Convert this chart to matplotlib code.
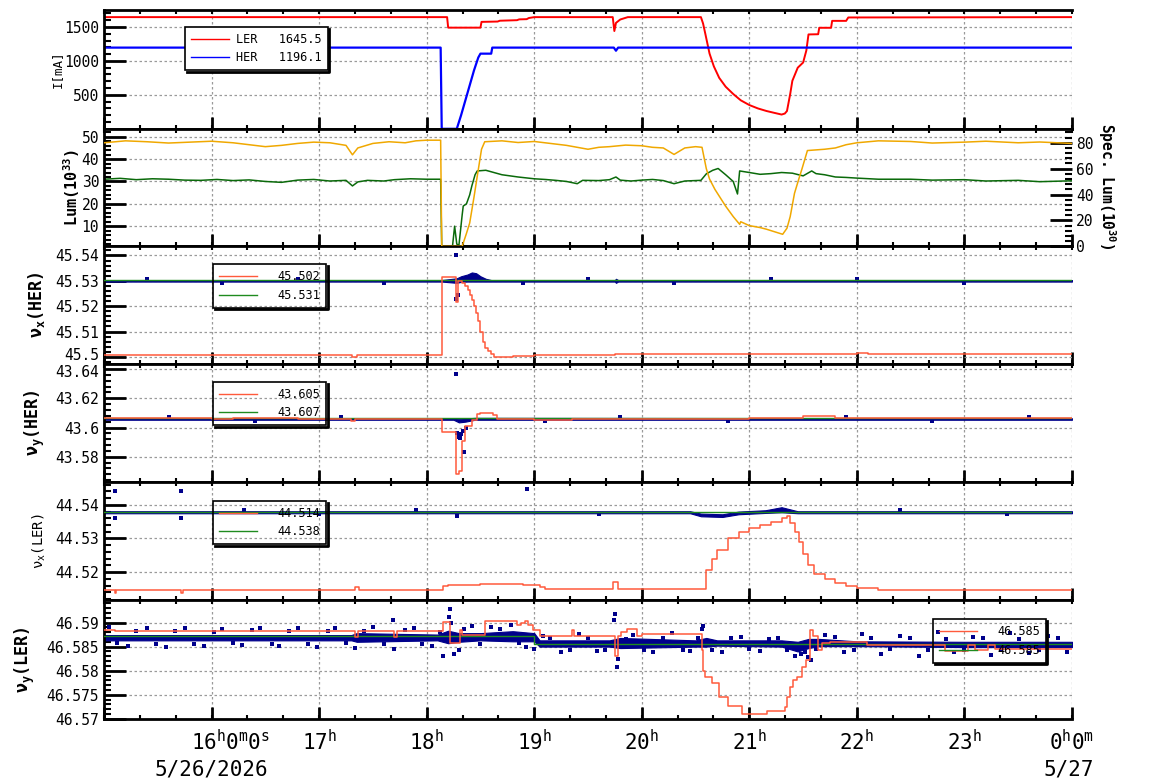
"""
Painel de operação do acelerador: correntes, luminosidade e tunes (15h às 24h).
"""
import matplotlib
matplotlib.use("Agg")
import matplotlib.pyplot as plt
from matplotlib.lines import Line2D
from matplotlib.ticker import AutoMinorLocator, FormatStrFormatter, MultipleLocator
from matplotlib.transforms import IdentityTransform, ScaledTranslation, blended_transform_factory

plt.rcParams["font.family"] = "DejaVu Sans Mono"
plt.rcParams["mathtext.fontset"] = "custom"
plt.rcParams["mathtext.rm"] = "DejaVu Sans Mono"
plt.rcParams["mathtext.it"] = "DejaVu Sans Mono"
plt.rcParams["mathtext.bf"] = "DejaVu Sans Mono:bold"

# ---------------------------------------------------------------------------
# Dados (tempo em horas)
# ---------------------------------------------------------------------------
# Corrente LER / HER [mA]
t_ler = [15.0, 18.19, 18.20, 18.50, 18.51, 18.66, 18.68, 18.84, 18.86, 18.93, 18.95, 19.00,
         19.73, 19.745, 19.76, 19.80, 19.87, 20.55, 20.57, 20.59, 20.63, 20.67, 20.72, 20.78,
         20.85, 20.92, 21.00, 21.08, 21.16, 21.24, 21.30, 21.33, 21.35, 21.38, 21.40, 21.45,
         21.50, 21.53, 21.55, 21.64, 21.65, 21.76, 21.77, 21.90, 21.92, 24.0]
ler = [1645, 1645, 1490, 1490, 1575, 1580, 1592, 1600, 1612, 1615, 1632, 1645,
       1645, 1440, 1560, 1610, 1645, 1645, 1550, 1405, 1108, 920, 750, 620,
       513, 420, 350, 300, 262, 232, 210, 225, 262, 513, 707, 900,
       976, 1153, 1390, 1393, 1488, 1488, 1590, 1590, 1640, 1645]
t_her = [15.0, 18.13, 18.14, 18.28, 18.32, 18.36, 18.40, 18.44, 18.48, 18.50, 18.60, 18.61,
         19.74, 19.76, 19.78, 24.0]
her = [1196, 1196, 0, 0, 200, 420, 640, 860, 1050, 1107, 1107, 1196,
       1196, 1150, 1196, 1196]
leg_ler, leg_her = "1645.5", "1196.1"

# Luminosidade (10^33) e luminosidade específica (10^30)
t_lum = [15.0, 15.15, 15.3, 15.45, 15.6, 15.75, 15.9, 16.05, 16.2, 16.35, 16.5, 16.65, 16.8,
         16.95, 17.1, 17.25, 17.31, 17.36, 17.45, 17.6, 17.7, 17.85, 18.0, 18.13, 18.14, 18.24,
         18.26, 18.28, 18.30, 18.33, 18.34, 18.37, 18.40, 18.42, 18.45, 18.47, 18.55, 18.7,
         18.85, 19.0, 19.1, 19.2, 19.3, 19.4, 19.45, 19.6, 19.7, 19.76, 19.8, 19.9, 20.0, 20.1,
         20.2, 20.3, 20.4, 20.55, 20.60, 20.66, 20.71, 20.78, 20.85, 20.89, 20.91, 21.0, 21.1,
         21.2, 21.3, 21.4, 21.5, 21.58, 21.62, 21.7, 21.8, 21.9, 22.0, 22.2, 22.5, 22.7, 23.0,
         23.2, 23.5, 23.7, 24.0]
lum = [31.0, 31.4, 30.8, 31.2, 31.0, 30.6, 30.5, 30.9, 30.4, 30.7, 30.0, 29.6, 30.6,
       30.9, 30.2, 30.5, 28.0, 29.8, 30.5, 30.2, 30.8, 31.2, 31.0, 31.0, 1.0, 1.0,
       10.0, 2.0, 1.5, 15.0, 19.0, 20.0, 24.0, 28.0, 33.0, 34.7, 35.0, 33.0,
       32.0, 31.2, 30.9, 30.5, 30.0, 29.0, 30.5, 30.4, 30.8, 32.0, 30.6, 30.2, 30.6, 30.9,
       30.4, 29.0, 30.2, 30.5, 33.4, 35.0, 35.8, 33.0, 30.0, 24.4, 34.7, 34.0, 33.2,
       33.5, 34.0, 33.7, 32.5, 34.7, 33.5, 33.0, 32.0, 31.8, 31.5, 31.0, 31.0, 30.6, 30.8,
       30.2, 30.5, 29.9, 30.3]
t_spec = [15.0, 15.2, 15.4, 15.6, 15.8, 16.0, 16.2, 16.35, 16.5, 16.65, 16.8, 16.95, 17.1,
          17.25, 17.31, 17.36, 17.5, 17.65, 17.8, 17.9, 18.0, 18.13, 18.14, 18.33, 18.37, 18.40,
          18.44, 18.47, 18.51, 18.54, 18.7, 18.85, 19.0, 19.15, 19.3, 19.4, 19.5, 19.6, 19.7,
          19.85, 20.0, 20.1, 20.2, 20.3, 20.4, 20.5, 20.56, 20.60, 20.63, 20.68, 20.72, 20.78,
          20.85, 20.91, 20.92, 21.0, 21.1, 21.16, 21.31, 21.35, 21.38, 21.42, 21.46, 21.49,
          21.54, 21.7, 21.8, 21.9, 22.0, 22.2, 22.5, 22.7, 23.0, 23.2, 23.5, 23.7, 24.0]
spec = [80.0, 81.5, 80.8, 79.8, 80.5, 81.2, 80.0, 78.5, 77.0, 78.0, 79.5, 80.5, 80.0,
        78.0, 70.7, 76.0, 79.5, 80.8, 80.0, 81.5, 82.0, 82.0, 0.0, 0.0, 10.0, 18.0,
        38.0, 54.0, 75.0, 80.8, 81.5, 80.2, 81.0, 79.5, 78.0, 76.5, 75.0, 76.5, 77.0,
        78.2, 77.7, 76.5, 76.0, 71.0, 76.0, 77.0, 76.5, 60.0, 52.0, 44.0, 38.8, 31.0,
        23.0, 17.0, 19.0, 16.0, 14.5, 13.2, 9.3, 14.0, 23.0, 41.0, 52.0, 60.0,
        74.0, 75.0, 76.0, 78.5, 80.0, 81.5, 81.0, 79.8, 80.5, 81.2, 80.0, 80.6, 79.5]

# nu_x(HER)
t_nxh = [15.0, 17.31, 17.35, 18.14, 18.27, 18.29, 18.33, 18.36, 18.38, 18.40, 18.42, 18.44,
         18.46, 18.48, 18.50, 18.52, 18.54, 18.57, 18.60, 18.63, 18.80, 19.00, 19.75, 22.00,
         22.10, 24.0]
nxh = [45.5008, 45.5000, 45.5008, 45.5314, 45.5215, 45.5300, 45.5290, 45.5280, 45.5265,
       45.5245, 45.5225, 45.5200, 45.5175, 45.5140, 45.5100, 45.5060, 45.5035, 45.5022,
       45.5012, 45.4998, 45.5003, 45.5008, 45.5012, 45.5014, 45.5010, 45.5010]
t_nxh_band = [15.0, 18.14, 18.28, 18.32, 18.38, 18.42, 18.46, 18.50, 18.55, 18.60, 19.75,
              19.76, 19.78, 24.0]
nxh_lo = [45.5297, 45.5297, 45.5292, 45.5296, 45.5297, 45.5297, 45.5297, 45.5297, 45.5297,
          45.5297, 45.5297, 45.5292, 45.5297, 45.5297]
nxh_hi = [45.5303, 45.5303, 45.5310, 45.5318, 45.5325, 45.5333, 45.5330, 45.5318, 45.5308,
          45.5303, 45.5303, 45.5308, 45.5303, 45.5303]
nxh_ref = 45.5305
t_nxh_pts = [18.27, 18.27, 18.29, 15.4, 16.1, 16.8, 17.6, 18.9, 19.5, 20.3, 21.2, 22.0, 23.0]
nxh_pts = [45.5400, 45.5228, 45.5245, 45.5308, 45.5292, 45.5308, 45.5292, 45.5293, 45.5307,
           45.5293, 45.5307, 45.5308, 45.5293]
leg_nxh = ["45.502", "45.531"]

# nu_y(HER)
t_nyh = [15.0, 16.0, 16.2, 16.45, 16.8, 17.3, 17.33, 18.14, 18.27, 18.30, 18.33, 18.36,
         18.42, 18.47, 18.50, 18.62, 18.65, 19.0, 19.35, 19.9, 20.3, 21.0, 21.5, 21.8, 22.0,
         24.0]
nyh = [43.6067, 43.6060, 43.6068, 43.6062, 43.6055, 43.6045, 43.6058, 43.5972, 43.5685,
       43.5700, 43.5910, 43.6010, 43.6050, 43.6090, 43.6100, 43.6085, 43.6055, 43.6050,
       43.6055, 43.6058, 43.6060, 43.6065, 43.6077, 43.6065, 43.6062, 43.6062]
t_nyh_band = [15.0, 18.25, 18.30, 18.36, 18.45, 24.0]
nyh_lo = [43.6053, 43.6053, 43.6035, 43.6040, 43.6053, 43.6053]
nyh_hi = [43.6063, 43.6063, 43.6060, 43.6062, 43.6066, 43.6063]
nyh_ref = 43.6062
t_nyh_pts = [18.27, 18.28, 18.30, 18.31, 18.32, 18.34, 18.35, 18.37, 15.6, 16.4, 17.2, 19.1,
             19.8, 20.8, 21.9, 22.7, 23.6]
nyh_pts = [43.6364, 43.5960, 43.5935, 43.5925, 43.5955, 43.5975, 43.5835, 43.6000, 43.6072,
           43.6046, 43.6072, 43.6045, 43.6073, 43.6046, 43.6073, 43.6046, 43.6072]
leg_nyh = ["43.605", "43.607"]

# nu_x(LER)
t_nxl = [15.0, 15.10, 15.11, 15.72, 15.73, 17.33, 17.37, 18.15, 18.20, 18.50, 18.90, 19.05,
         19.10, 19.73, 19.78, 20.55, 20.60, 20.65, 20.70, 20.80, 20.90, 21.00, 21.10, 21.20,
         21.30, 21.35, 21.38, 21.42, 21.46, 21.50, 21.55, 21.60, 21.70, 21.80, 21.90, 22.00,
         22.20, 24.0]
nxl = [44.5146, 44.5137, 44.5146, 44.5137, 44.5146, 44.5155, 44.5146, 44.5158, 44.5163,
       44.5165, 44.5162, 44.5155, 44.5149, 44.5170, 44.5149, 44.5150, 44.5205, 44.5240,
       44.5265, 44.5300, 44.5318, 44.5330, 44.5340, 44.5350, 44.5360, 44.5366, 44.5345,
       44.5320, 44.5290, 44.5255, 44.5220, 44.5195, 44.5180, 44.5167, 44.5160, 44.5152,
       44.5147, 44.5146]
t_nxl_band = [15.0, 20.45, 20.55, 20.75, 20.90, 21.15, 21.30, 21.45, 24.0]
nxl_lo = [44.5375, 44.5375, 44.5366, 44.5364, 44.5372, 44.5376, 44.5378, 44.5375, 44.5375]
nxl_hi = [44.5381, 44.5381, 44.5374, 44.5372, 44.5380, 44.5384, 44.5393, 44.5381, 44.5381]
nxl_ref = 44.5378
t_nxl_pts = [15.10, 15.72, 18.93, 15.10, 15.72, 18.28, 16.3, 17.0, 17.9, 19.6, 22.4, 23.4]
nxl_pts = [44.5441, 44.5441, 44.5447, 44.5362, 44.5362, 44.5366, 44.5384, 44.5372, 44.5384,
           44.5372, 44.5384, 44.5372]
leg_nxl = ["44.514", "44.538"]

# nu_y(LER)
t_nyl = [15.0, 15.10, 17.33, 17.36, 17.70, 17.72, 18.15, 18.22, 18.31, 18.33, 18.54, 18.84,
         18.88, 18.91, 18.94, 18.99, 19.05, 19.35, 19.37, 19.73, 19.75, 19.78, 19.81, 19.86,
         19.96, 20.00, 20.56, 20.57, 20.59, 20.65, 20.72, 20.80, 20.93, 21.16, 21.33, 21.35,
         21.38, 21.41, 21.44, 21.49, 21.53, 21.56, 21.59, 21.64, 21.68, 21.75, 22.09, 22.82,
         23.03, 23.10, 23.22, 23.28, 24.0]
nyl = [46.5885, 46.5882, 46.5869, 46.5882, 46.5870, 46.5882, 46.5901, 46.5858, 46.5885,
       46.5875, 46.5903, 46.5894, 46.5898, 46.5903, 46.5894, 46.5885, 46.5873, 46.5884,
       46.5873, 46.5873, 46.5830, 46.5871, 46.5880, 46.5887, 46.5871, 46.5877, 46.5843,
       46.5800, 46.5787, 46.5774, 46.5745, 46.5727, 46.5710, 46.5717, 46.5724, 46.5745,
       46.5766, 46.5780, 46.5787, 46.5808, 46.5822, 46.5884, 46.5871, 46.5843, 46.5858,
       46.5860, 46.5854, 46.5840, 46.5854, 46.5843, 46.5854, 46.5845, 46.5845]
t_nyl_ref = [15.0, 19.0, 19.0, 24.0]
nyl_ref = [46.5871, 46.5871, 46.5856, 46.5856]
t_nyl_band = [15.0, 17.3, 17.35, 18.1, 18.2, 18.3, 18.5, 18.8, 19.0, 19.05, 19.7, 19.8, 20.5,
              20.6, 20.7, 21.3, 21.45, 21.55, 21.65, 22.0, 23.0, 24.0]
nyl_lo = [46.5863, 46.5863, 46.5860, 46.5863, 46.5857, 46.5860, 46.5863, 46.5861, 46.5861,
          46.5850, 46.5850, 46.5847, 46.5850, 46.5850, 46.5852, 46.5850, 46.5840, 46.5847,
          46.5851, 46.5851, 46.5849, 46.5849]
nyl_hi = [46.5874, 46.5874, 46.5878, 46.5875, 46.5883, 46.5878, 46.5878, 46.5882, 46.5878,
          46.5863, 46.5863, 46.5868, 46.5863, 46.5868, 46.5863, 46.5863, 46.5860, 46.5866,
          46.5866, 46.5861, 46.5860, 46.5860]
t_nyl_pts = [15.05, 15.22, 15.40, 15.58, 15.75, 15.93, 16.10, 16.28, 16.45, 16.63, 16.80,
             16.98, 17.15, 17.33, 17.50, 17.69, 17.70, 17.88, 18.05, 18.15, 18.21, 18.22,
             18.23, 18.25, 18.30, 18.42, 18.60, 18.78, 18.92, 19.08, 19.25, 19.42, 19.58,
             19.74, 19.75, 19.77, 19.78, 19.92, 20.10, 20.28, 20.45, 20.56, 20.57, 20.75,
             20.92, 21.10, 21.27, 21.42, 21.48, 21.55, 21.57, 21.70, 21.88, 22.05, 22.22,
             22.40, 22.58, 22.75, 22.90, 23.08, 23.25, 23.42, 23.60, 23.78, 23.95,
             15.12, 15.30, 15.48, 15.66, 15.84, 16.02, 16.20, 16.38, 16.56, 16.72, 16.90,
             17.08, 17.25, 17.42, 17.60, 17.80, 17.96, 18.12, 18.35, 18.50, 18.68, 18.86,
             19.00, 19.15, 19.33, 19.50, 19.66, 19.85, 20.02, 20.20, 20.38, 20.52, 20.65,
             20.83, 21.00, 21.18, 21.35, 21.52, 21.62, 21.80, 21.97, 22.13, 22.31, 22.49,
             22.66, 22.83, 23.00, 23.17, 23.34, 23.51, 23.69, 23.87]
nyl_pts = [46.5890, 46.5851, 46.5889, 46.5850, 46.5888, 46.5852, 46.5887, 46.5853, 46.5889,
           46.5851, 46.5888, 46.5850, 46.5889, 46.5847, 46.5890, 46.5906, 46.5845, 46.5888,
           46.5852, 46.5830, 46.5912, 46.5927, 46.5900, 46.5835, 46.5842, 46.5893, 46.5891,
           46.5895, 46.5850, 46.5872, 46.5838, 46.5876, 46.5840, 46.5905, 46.5918, 46.5808,
           46.5825, 46.5875, 46.5838, 46.5878, 46.5840, 46.5886, 46.5893, 46.5838, 46.5870,
           46.5840, 46.5868, 46.5830, 46.5835, 46.5828, 46.5822, 46.5874, 46.5838, 46.5876,
           46.5835, 46.5873, 46.5830, 46.5880, 46.5838, 46.5870, 46.5832, 46.5878, 46.5836,
           46.5872, 46.5838,
           46.5857, 46.5882, 46.5856, 46.5883, 46.5855, 46.5881, 46.5857, 46.5884, 46.5856,
           46.5882, 46.5855, 46.5883, 46.5857, 46.5882, 46.5855, 46.5884, 46.5856, 46.5880,
           46.5886, 46.5856, 46.5887, 46.5858, 46.5846, 46.5867, 46.5843, 46.5868, 46.5844,
           46.5866, 46.5843, 46.5868, 46.5844, 46.5867, 46.5843, 46.5868, 46.5845, 46.5866,
           46.5844, 46.5838, 46.5845, 46.5869, 46.5843, 46.5867, 46.5845, 46.5868, 46.5844,
           46.5866, 46.5843, 46.5868, 46.5844, 46.5866, 46.5843, 46.5867]
leg_nyl = ["46.585", "46.585"]

# Rótulos do eixo de tempo
hour_pos = [16.18, 17, 18, 19, 20, 21, 22, 23, 24]
hour_labels = [r"$16^{h}0^{m}0^{s}$", r"$17^{h}$", r"$18^{h}$", r"$19^{h}$", r"$20^{h}$",
               r"$21^{h}$", r"$22^{h}$", r"$23^{h}$", r"$0^{h}0^{m}$"]
date_pos = [16.0, 23.97]
date_labels = ["5/26/2026", "5/27"]

C_LER, C_HER = "#ff0000", "#0000ff"
C_LUM, C_SPEC = "#0a6a0a", "#f0a800"
C_TUNE, C_REF, C_DOT = "#ff5a3c", "#1f8b1f", "#00008b"

# ---------------------------------------------------------------------------
fig = plt.figure(figsize=(11.54, 7.82), dpi=100)
gs = fig.add_gridspec(6, 1, left=104 / 1154, right=1072 / 1154, top=1 - 10 / 782,
                      bottom=1 - 719 / 782, hspace=0, height_ratios=[118, 117, 117, 117, 118, 118])
axes = [fig.add_subplot(gs[i]) for i in range(6)]


def estilo(ax, ylim, passo):
    ax.set_xlim(15, 24)
    ax.set_ylim(*ylim)
    ax.xaxis.set_major_locator(MultipleLocator(1))
    ax.xaxis.set_minor_locator(MultipleLocator(1 / 3))
    ax.xaxis.remove_overlapping_locs = False
    ax.yaxis.set_major_locator(MultipleLocator(passo))
    ax.yaxis.set_minor_locator(AutoMinorLocator(5))
    ax.yaxis.set_major_formatter(FormatStrFormatter("%g"))
    ax.grid(True, which="major", color="#9a9a9a", linestyle=(0, (2, 2)), linewidth=0.9)
    ax.tick_params(axis="y", which="major", direction="in", length=16, width=2, labelsize=10.5)
    ax.tick_params(axis="y", which="minor", direction="in", length=5, width=1.5)
    ax.tick_params(axis="x", which="major", direction="in", length=9, width=2,
                   top=False, labelbottom=False)
    ax.tick_params(axis="x", which="minor", direction="in", length=3, width=1.5, top=True)
    for s in ["left", "top", "bottom"]:
        ax.spines[s].set_linewidth(2)
    ax.spines["right"].set_visible(False)


def legenda(ax, linhas, textos, x, y, opaca=False, pad_texto=1.7):
    leg = ax.legend(linhas, textos, loc="upper left", bbox_to_anchor=(x, y), borderaxespad=0,
                    fancybox=False, edgecolor="black", facecolor="white" if opaca else "none",
                    framealpha=1, fontsize=8.6, handlelength=3.2, handletextpad=pad_texto,
                    borderpad=0.5, labelspacing=0.45)
    leg.get_frame().set_linewidth(1.2)
    leg.set_zorder(10)
    return leg


legendas = []

# 1) Corrente
ax = axes[0]
ax.plot(t_ler, ler, color=C_LER, lw=1.4)
ax.plot(t_her, her, color=C_HER, lw=1.6)
estilo(ax, (2, 1750), 500)
ax.set_ylabel("I[mA]", fontsize=9)
ax.yaxis.set_label_coords(-0.042, 0.5)
legendas.append(legenda(ax, [Line2D([], [], color=C_LER, lw=1), Line2D([], [], color=C_HER, lw=1)],
                        [f"LER   {leg_ler}", f"HER   {leg_her}"], 0.0837, 0.856, opaca=True,
                        pad_texto=0.6))

# 2) Luminosidade
ax = axes[1]
ax.plot(t_lum, lum, color=C_LUM, lw=1.1)
estilo(ax, (1.0, 53.6), 10)
ax.set_ylabel(r"Lum(10$^{\mathbf{33}}$)", fontsize=11, fontweight="bold")
ax.yaxis.set_label_coords(-0.023, 0.5)
ax2 = ax.twinx()
ax2.plot(t_spec, spec, color=C_SPEC, lw=1.1)
ax2.set_xlim(15, 24)
ax2.set_ylim(0, 90.9)
ax2.yaxis.set_major_locator(MultipleLocator(20))
ax2.yaxis.set_minor_locator(AutoMinorLocator(5))
ax2.tick_params(axis="y", which="major", direction="in", length=16, width=2, labelsize=10.5, pad=3)
ax2.tick_params(axis="y", which="minor", direction="in", length=5, width=1.5)
for s in ax2.spines.values():
    s.set_visible(False)
ax2.text(1.036, 0.513, r"Spec. Lum(10$^{\mathbf{30}}$)", rotation=-90, ha="center", va="center",
         fontsize=10.5, fontweight="bold", transform=ax2.transAxes)


def painel_tune(ax, t, v, tb, lo, hi, tp, vp, ref_t, ref_v):
    ax.fill_between(tb, lo, hi, color=C_DOT, lw=0.8, zorder=2)
    ax.scatter(tp, vp, marker="s", s=5, color=C_DOT, linewidths=0, zorder=2)
    ax.plot(ref_t, ref_v, color=C_REF, lw=1.0, zorder=3)
    ax.plot(t, v, color=C_TUNE, lw=1.1, drawstyle="steps-post", zorder=4)


def handles():
    return [Line2D([], [], color=C_TUNE, lw=1), Line2D([], [], color=C_REF, lw=1)]


# 3) nu_x(HER)
ax = axes[2]
painel_tune(ax, t_nxh, nxh, t_nxh_band, nxh_lo, nxh_hi, t_nxh_pts, nxh_pts,
            [15, 24], [nxh_ref, nxh_ref])
estilo(ax, (45.4972, 45.5436), 0.01)
ax.set_ylabel(r"ν$_{\mathbf{x}}$(HER)", fontsize=12, fontweight="bold")
ax.yaxis.set_label_coords(-0.059, 0.5)
legendas.append(legenda(ax, handles(), leg_nxh, 0.1126, 0.846))

# 4) nu_y(HER)
ax = axes[3]
painel_tune(ax, t_nyh, nyh, t_nyh_band, nyh_lo, nyh_hi, t_nyh_pts, nyh_pts,
            [15, 24], [nyh_ref, nyh_ref])
estilo(ax, (43.5630, 43.6434), 0.02)
ax.set_ylabel(r"ν$_{\mathbf{y}}$(HER)", fontsize=12, fontweight="bold")
ax.yaxis.set_label_coords(-0.059, 0.5)
legendas.append(legenda(ax, handles(), leg_nyh, 0.1126, 0.846))

# 5) nu_x(LER)
ax = axes[4]
painel_tune(ax, t_nxl, nxl, t_nxl_band, nxl_lo, nxl_hi, t_nxl_pts, nxl_pts,
            [15, 24], [nxl_ref, nxl_ref])
estilo(ax, (44.5116, 44.5469), 0.01)
ax.set_ylabel(r"ν$_{x}$(LER)", fontsize=10)
ax.yaxis.set_label_coords(-0.058, 0.5)
legendas.append(legenda(ax, handles(), leg_nxl, 0.1126, 0.839))

# 6) nu_y(LER)
ax = axes[5]
painel_tune(ax, t_nyl, nyl, t_nyl_band, nyl_lo, nyl_hi, t_nyl_pts, nyl_pts,
            t_nyl_ref, nyl_ref)
estilo(ax, (46.56999, 46.5946), 0.005)
ax.set_ylabel(r"ν$_{\mathbf{y}}$(LER)", fontsize=12, fontweight="bold")
ax.yaxis.set_label_coords(-0.069, 0.5)
legendas.append(legenda(ax, handles(), leg_nyl, 0.856, 0.839))

# Rótulos de tempo (estilo ROOT) abaixo do último painel
trans = blended_transform_factory(ax.transData, ax.transAxes)
for h, lab in zip(hour_pos, hour_labels):
    ax.text(h, -0.263, lab, ha="center", va="baseline", fontsize=15, transform=trans)
for h, lab in zip(date_pos, date_labels):
    ax.text(h, -0.475, lab, ha="center", va="baseline", fontsize=15, transform=trans)

fig.canvas.draw()

# "45.5" (base do painel 3) e "43.64" (topo do painel 4) ficam colados: afasta um pouco
for eixo, alvo, dy in [(axes[2], 45.5, 2.5), (axes[3], 43.64, -2.5)]:
    for tick in eixo.yaxis.get_major_ticks():
        if abs(tick.get_loc() - alvo) < 1e-6:
            lab = tick.label1
            lab.set_transform(lab.get_transform() + ScaledTranslation(0, dy / 100, fig.dpi_scale_trans))

# Sombra das legendas (linha preta deslocada à direita e embaixo)
for leg in legendas:
    bb = leg.get_frame().get_window_extent()
    fig.add_artist(Line2D([bb.x1 + 1.5, bb.x1 + 1.5, bb.x0 + 2], [bb.y1 - 2, bb.y0 - 1.5, bb.y0 - 1.5],
                          transform=IdentityTransform(), color="black", lw=2))

fig.savefig("out.png", dpi=100)
